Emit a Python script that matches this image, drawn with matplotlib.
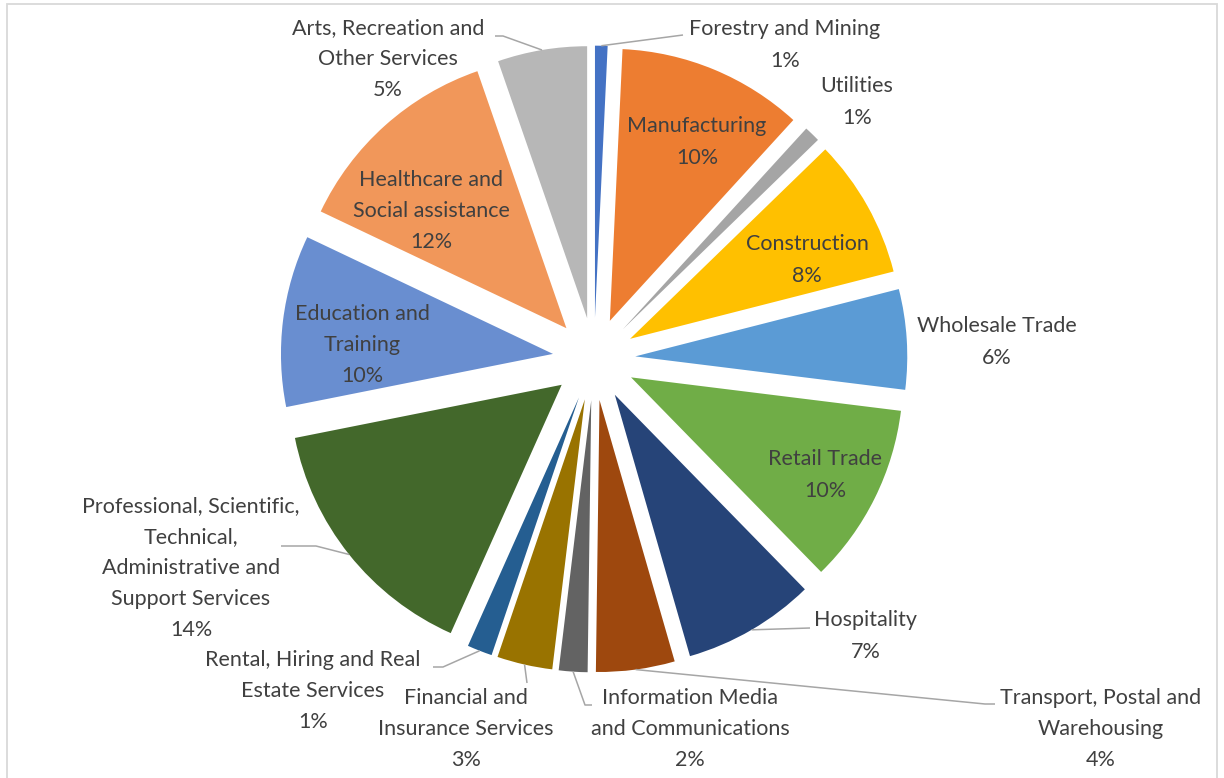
import matplotlib.pyplot as plt
from matplotlib.patches import Rectangle
import numpy as np

# industry shares (% of employment)
categories = ['Forestry and Mining', 'Manufacturing', 'Utilities', 'Construction',
              'Wholesale Trade', 'Retail Trade', 'Hospitality',
              'Transport, Postal and\nWarehousing', 'Information Media\nand Communications',
              'Financial and\nInsurance Services', 'Rental, Hiring and Real\nEstate Services',
              'Professional, Scientific,\nTechnical,\nAdministrative and\nSupport Services',
              'Education and\nTraining', 'Healthcare and\nSocial assistance',
              'Arts, Recreation and\nOther Services']
share = [0.7, 10.4, 0.9, 7.8, 5.6, 10.1, 7.4, 4.4, 1.6, 3.1, 1.4, 14.3, 9.6, 11.9, 5.0]
colors = ['#4472C4', '#ED7D31', '#A5A5A5', '#FFC000', '#5B9BD5', '#70AD47', '#264478',
          '#9E480E', '#636363', '#997300', '#255E91', '#43682B', '#698ED0', '#F1975A', '#B7B7B7']

W, H = 1224, 778
cx, cy, R = 594, 359, 272.0   # pie centre and radius in pixels


def px(x, y):
    # image pixel -> data coords
    return (x - cx) / R, (cy - y) / R


# label centres (pixels) and leader line bends
label_at = [(785, 45), (697, 142), (857, 102), (807, 260), (997, 342), (825, 475),
            (866, 636), (1101, 729), (690, 729), (466, 729), (313, 691),
            (191, 568), (362, 345), (431, 211), (388, 59)]
leaders = {0: [(683, 35)],
           6: [(810, 628)],
           7: [(985, 704), (995, 704)],
           8: [(585, 705), (592, 705)],
           9: [(527, 683)],
           10: [(443, 667), (433, 667)],
           11: [(316, 546), (281, 546)],
           14: [(503, 36), (495, 36)]}

fig = plt.figure(figsize=(W / 100, H / 100), dpi=100)
ax = fig.add_axes([0, 0, 1, 1])
wedges, _ = ax.pie(share, colors=colors, startangle=90, counterclock=False,
                   explode=[0.152] * len(share), radius=1,
                   wedgeprops=dict(linewidth=0))
ax.set_xlim(-cx / R, (W - cx) / R)
ax.set_ylim((cy - H) / R, cy / R)
ax.set_aspect('auto')
ax.axis('off')

for i, w in enumerate(wedges):
    txt = categories[i] + '\n' + '{:.0f}%'.format(share[i])
    ax.text(*px(*label_at[i]), txt, ha='center', va='center', multialignment='center',
            fontsize=15.5, family='Lato', color='#404040', linespacing=1.70)
    if i in leaders:
        a = np.deg2rad((w.theta1 + w.theta2) / 2)
        xs = [w.center[0] + w.r * np.cos(a)]
        ys = [w.center[1] + w.r * np.sin(a)]
        for p in leaders[i]:
            q = px(*p)
            xs.append(q[0])
            ys.append(q[1])
        ax.plot(xs, ys, color='#A6A6A6', lw=1.1, solid_capstyle='butt')

# chart area border
fig.add_artist(Rectangle((7 / W, -0.05), (1216.5 - 7) / W, (H - 4.2) / H + 0.05,
                         transform=fig.transFigure, fill=False,
                         edgecolor='#D9D9D9', lw=1.3))

fig.savefig('out.png', dpi=100, facecolor='white')
